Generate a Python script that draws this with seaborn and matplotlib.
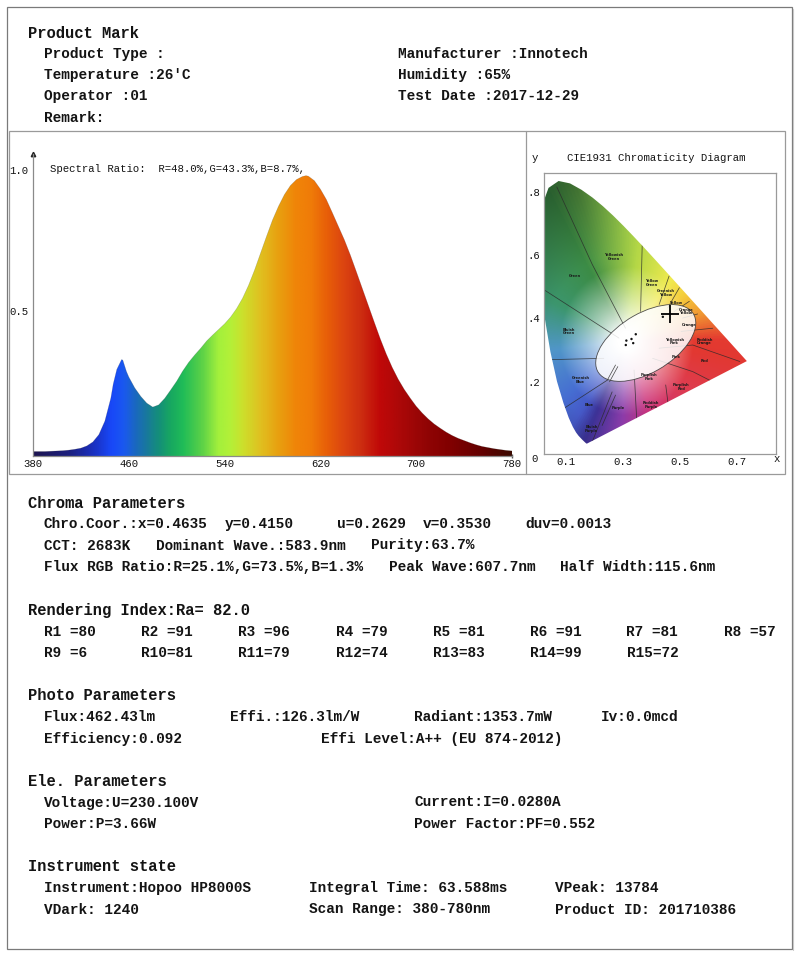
import numpy as np
import pandas as pd
import matplotlib
matplotlib.use("Agg")
import matplotlib.pyplot as plt
import seaborn as sns
from matplotlib.patches import Rectangle, Polygon, Ellipse
from matplotlib.colors import LinearSegmentedColormap
from matplotlib.ticker import FixedLocator, FuncFormatter

# ------------------------------------------------------------------ data
wavelength = [380, 385, 390, 395, 400, 405, 410, 415, 420, 425, 430, 435, 440, 445,
              447, 450, 454, 455, 458, 460, 465, 470, 475, 480, 485, 490, 495, 500,
              505, 510, 515, 520, 525, 530, 535, 540, 545, 550, 555, 560, 565, 570,
              575, 580, 585, 590, 595, 600, 605, 608, 610, 615, 620, 625, 630, 635,
              640, 645, 650, 655, 660, 665, 670, 675, 680, 685, 690, 695, 700, 705,
              710, 715, 720, 725, 730, 735, 740, 745, 750, 755, 760, 765, 770, 775, 780]
relative_power = [0.000, 0.000, 0.000, 0.001, 0.002, 0.003, 0.005, 0.008, 0.012, 0.020,
                  0.034, 0.060, 0.108, 0.190, 0.240, 0.292, 0.327, 0.325, 0.285, 0.265,
                  0.226, 0.196, 0.172, 0.158, 0.166, 0.189, 0.219, 0.250, 0.286, 0.317,
                  0.343, 0.367, 0.393, 0.414, 0.434, 0.454, 0.478, 0.508, 0.545, 0.591,
                  0.645, 0.705, 0.765, 0.823, 0.872, 0.914, 0.946, 0.967, 0.978, 0.981,
                  0.979, 0.963, 0.933, 0.896, 0.849, 0.801, 0.753, 0.699, 0.640, 0.580,
                  0.520, 0.460, 0.401, 0.347, 0.299, 0.257, 0.221, 0.190, 0.161, 0.137,
                  0.116, 0.098, 0.083, 0.069, 0.057, 0.047, 0.039, 0.031, 0.024, 0.018,
                  0.014, 0.010, 0.007, 0.004, 0.002]
spec_xticks = [380, 460, 540, 620, 700, 780]
spec_yticks = [0.5, 1.0]
spectral_ratio_text = "Spectral Ratio:  R=48.0%,G=43.3%,B=8.7%,"

# spectrum colour stops (wavelength, colour)
spec_color_wl = [380, 410, 430, 445, 455, 465, 475, 485, 495, 505, 520, 535, 545, 555,
                 570, 585, 600, 612, 625, 640, 655, 670, 690, 710, 730, 755, 780]
spec_color_hex = ['#1c1450', '#1c2080', '#1a30c0', '#1848f8', '#1a58f0', '#1a68c0',
                  '#187a9a', '#149078', '#18a860', '#20bc58', '#58d048', '#a4f03c',
                  '#b4f038', '#cce02c', '#e0c020', '#e8a010', '#f08408', '#f07c08',
                  '#e86008', '#dc4410', '#cc2c10', '#c00808', '#a80808', '#900404',
                  '#800000', '#640000', '#3c0a00']

# CIE 1931 spectral locus
locus_x = [0.1741, 0.1714, 0.1644, 0.1566, 0.1440, 0.1355, 0.1241, 0.1096, 0.0913, 0.0687,
           0.0454, 0.0235, 0.0082, 0.0039, 0.0139, 0.0389, 0.0743, 0.1142, 0.1547, 0.1929,
           0.2296, 0.2658, 0.3016, 0.3373, 0.3731, 0.4087, 0.4441, 0.4788, 0.5125, 0.5448,
           0.5752, 0.6029, 0.6270, 0.6658, 0.6915, 0.7190, 0.7347]
locus_y = [0.0050, 0.0051, 0.0109, 0.0177, 0.0297, 0.0399, 0.0578, 0.0868, 0.1327, 0.2007,
           0.2950, 0.4127, 0.5384, 0.6548, 0.7502, 0.8120, 0.8338, 0.8262, 0.8059, 0.7816,
           0.7543, 0.7243, 0.6923, 0.6589, 0.6245, 0.5896, 0.5547, 0.5202, 0.4866, 0.4544,
           0.4242, 0.3965, 0.3725, 0.3340, 0.3083, 0.2809, 0.2653]
chroma_x = [0.4635]
chroma_y = [0.4150]
cie_xticks = [0.1, 0.3, 0.5, 0.7]
cie_yticks = [0.2, 0.4, 0.6, 0.8]

# hue colours of the printed chart, by angle around the white point
hue_angle = [0, 17, 35, 51, 82, 107, 120, 155, 186, 220, 235, 245, 267, 291, 325, 352, 360]
hue_color = ['#e43a30', '#f09632', '#f5cd3c', '#f0eb50', '#b4d746', '#64a546', '#3c8c46',
             '#3c966e', '#5096c8', '#466ed2', '#465ac8', '#3c3296', '#8c3caa', '#cd3278',
             '#de3c50', '#e23832', '#e43a30']

# colour-name regions (Kelly chart) boundaries and names
region_lines = [
    [(0.068, 0.815), (0.192, 0.571), (0.309, 0.369)],
    [(0.368, 0.650), (0.362, 0.422)],
    [(0.462, 0.534), (0.427, 0.444)],
    [(0.498, 0.497), (0.457, 0.433)],
    [(0.533, 0.454), (0.480, 0.422)],
    [(0.562, 0.414), (0.509, 0.401)],
    [(0.615, 0.369), (0.504, 0.359)],
    [(0.427, 0.306), (0.545, 0.316), (0.710, 0.264)],
    [(0.404, 0.274), (0.545, 0.232), (0.680, 0.170)],
    [(0.339, 0.237), (0.350, 0.051)],
    [(0.450, 0.190), (0.462, 0.105)],
    [(0.003, 0.502), (0.286, 0.338)],
    [(0.007, 0.269), (0.233, 0.274)],
    [(0.074, 0.105), (0.245, 0.205)],
    [(0.192, 0.010), (0.262, 0.168)],
    [(0.227, 0.062), (0.274, 0.158)],
]
region_names = ["Green", "Yellowish\nGreen", "Yellow\nGreen", "Greenish\nYellow", "Yellow",
                "Orange\nYellow", "Orange", "Yellowish\nPink", "Reddish\nOrange", "Pink",
                "Red", "Purplish\nPink", "Purplish\nRed", "Reddish\nPurple", "Purple",
                "Blue", "Greenish\nBlue", "Bluish\nGreen", "Bluish\nPurple"]
region_x = [0.133, 0.268, 0.401, 0.451, 0.486, 0.521, 0.533, 0.480, 0.586, 0.486,
            0.586, 0.392, 0.504, 0.398, 0.284, 0.180, 0.151, 0.109, 0.190]
region_y = [0.534, 0.594, 0.512, 0.481, 0.449, 0.422, 0.380, 0.327, 0.327, 0.279,
            0.264, 0.216, 0.184, 0.126, 0.117, 0.126, 0.205, 0.359, 0.051]
white_pts_x = [0.310, 0.312, 0.330, 0.336, 0.345, 0.440]
white_pts_y = [0.316, 0.330, 0.335, 0.322, 0.350, 0.405]

# report texts
header_title = "Product Mark"
header_left = ["Product Type :", "Temperature :26'C", "Operator :01", "Remark:"]
header_right = ["Manufacturer :Innotech", "Humidity :65%", "Test Date :2017-12-29"]

chroma_title = "Chroma Parameters"
chroma_row1 = ["Chro.Coor.:x=0.4635", "y=0.4150", "u=0.2629", "v=0.3530", "duv=0.0013"]
chroma_row2 = ["CCT: 2683K", "Dominant Wave.:583.9nm", "Purity:63.7%"]
chroma_row3 = ["Flux RGB Ratio:R=25.1%,G=73.5%,B=1.3%", "Peak Wave:607.7nm", "Half Width:115.6nm"]

ri_title = "Rendering Index:Ra= 82.0"
ri_names = ["R1 ", "R2 ", "R3 ", "R4 ", "R5 ", "R6 ", "R7 ", "R8 ",
            "R9 ", "R10", "R11", "R12", "R13", "R14", "R15"]
ri_values = [80, 91, 96, 79, 81, 91, 81, 57, 6, 81, 79, 74, 83, 99, 72]

photo_title = "Photo Parameters"
photo_row1 = ["Flux:462.43lm", "Effi.:126.3lm/W", "Radiant:1353.7mW", "Iv:0.0mcd"]
photo_row2 = ["Efficiency:0.092", "Effi Level:A++ (EU 874-2012)"]

ele_title = "Ele. Parameters"
ele_row1 = ["Voltage:U=230.100V", "Current:I=0.0280A"]
ele_row2 = ["Power:P=3.66W", "Power Factor:PF=0.552"]

inst_title = "Instrument state"
inst_row1 = ["Instrument:Hopoo HP8000S", "Integral Time: 63.588ms", "VPeak: 13784"]
inst_row2 = ["VDark: 1240", "Scan Range: 380-780nm", "Product ID: 201710386"]

# ------------------------------------------------------------------ style
sns.set_theme(style="white")
MONO = ["Liberation Mono", "DejaVu Sans Mono"]
plt.rcParams["font.family"] = MONO

W, H = 800, 957
fig = plt.figure(figsize=(W / 100, H / 100), dpi=100)
fig.patch.set_facecolor("white")

bg = fig.add_axes([0, 0, 1, 1])
bg.set_xlim(0, W)
bg.set_ylim(H, 0)
bg.axis("off")

TXT = "#141414"
BODY = dict(family=MONO, weight="bold", fontsize=10.4, va="center", ha="left", color=TXT)
TITLE = dict(family=MONO, weight="bold", fontsize=11.2, va="center", ha="left", color=TXT)
SMALL = dict(family=MONO, weight="normal", fontsize=7.7, va="center", color=TXT)

# borders
bg.add_patch(Rectangle((7, 7), 785, 942, fill=False, edgecolor="#7a7a7a", lw=0.9))
bg.plot([793, 793], [9, 950], color="#c8c8c8", lw=0.8)
bg.add_patch(Rectangle((9, 131), 776, 343, fill=False, edgecolor="#9a9a9a", lw=0.9))
bg.plot([526, 526], [131, 474], color="#9a9a9a", lw=0.9)

# header
bg.text(28, 33, header_title, **TITLE)
for i, s in enumerate(header_left):
    bg.text(44, 54 + 21.2 * i, s, **BODY)
for i, s in enumerate(header_right):
    bg.text(398, 54 + 21.2 * i, s, **BODY)

# chroma
bg.text(28, 503, chroma_title, **TITLE)
for s, x in zip(chroma_row1, [44, 224.5, 337, 422.5, 525.5]):
    bg.text(x, 524, s, **BODY)
for s, x in zip(chroma_row2, [44, 156.5, 371]):
    bg.text(x, 545.5, s, **BODY)
for s, x in zip(chroma_row3, [44, 389, 560.5]):
    bg.text(x, 567, s, **BODY)

# rendering index
bg.text(28, 610, ri_title, **TITLE)
ri_cols = [44.4, 141.3, 238.3, 335.7, 432.7, 529.6, 626.5, 724.0]
for i, (n, v) in enumerate(zip(ri_names, ri_values)):
    row, col = divmod(i, 8)
    bg.text(ri_cols[col], 631.5 + 21.5 * row, f"{n}={v}", **BODY)

# photo
bg.text(28, 696, photo_title, **TITLE)
for s, x in zip(photo_row1, [44, 229.6, 414.3, 600.5]):
    bg.text(x, 717, s, **BODY)
for s, x in zip(photo_row2, [44, 321.4]):
    bg.text(x, 738.5, s, **BODY)

# electrical
bg.text(28, 781.5, ele_title, **TITLE)
for s, x in zip(ele_row1, [44, 414.3]):
    bg.text(x, 802.5, s, **BODY)
for s, x in zip(ele_row2, [44, 414.3]):
    bg.text(x, 824, s, **BODY)

# instrument
bg.text(28, 866.5, inst_title, **TITLE)
for s, x in zip(inst_row1, [44, 308.7, 555]):
    bg.text(x, 888, s, **BODY)
for s, x in zip(inst_row2, [44, 308.7, 555]):
    bg.text(x, 909.5, s, **BODY)


def px_axes(l, t, r, b):
    return [l / W, 1 - b / H, (r - l) / W, (b - t) / H]


# ------------------------------------------------------------------ spectrum
spec = pd.DataFrame({"wavelength": wavelength, "power": relative_power})
ax = fig.add_axes(px_axes(33, 154, 512, 456))
ax.set_facecolor("none")
ax.set_xlim(380, 780)
ax.set_ylim(-0.016, 1.058)

cmap = LinearSegmentedColormap.from_list(
    "spec", [((w - 380) / 400, c) for w, c in zip(spec_color_wl, spec_color_hex)])
grad = np.linspace(0, 1, 800).reshape(1, -1)
im = ax.imshow(grad, extent=[380, 780, -0.016, 1.058], aspect="auto", cmap=cmap,
               origin="lower", interpolation="bilinear", zorder=1)
verts = list(zip(spec["wavelength"], spec["power"])) + [(780, -0.016), (380, -0.016)]
clip = Polygon(verts, closed=True, transform=ax.transData, facecolor="none", edgecolor="none")
ax.add_patch(clip)
im.set_clip_path(clip)
sns.lineplot(data=spec, x="wavelength", y="power", ax=ax, color="#3a3a3a",
             lw=0.35, alpha=0.3, zorder=2)
ax.set_xlabel("")
ax.set_ylabel("")

for side in ["top", "right"]:
    ax.spines[side].set_visible(False)
for side in ["left", "bottom"]:
    ax.spines[side].set_color("#8a8a8a")
    ax.spines[side].set_linewidth(0.9)
ax.plot([0], [1], marker="^", ms=3.2, color="#222222", transform=ax.transAxes, clip_on=False)
ax.plot([1], [0], marker="|", ms=3, color="#555555", transform=ax.transAxes, clip_on=False)
ax.set_xticks(spec_xticks)
ax.set_xticklabels([str(v) for v in spec_xticks])
ax.set_yticks(spec_yticks)
ax.set_yticklabels([f"{v:.1f}" for v in spec_yticks])
ax.tick_params(axis="x", length=0, pad=2.2, labelsize=7.7, labelcolor=TXT)
ax.tick_params(axis="y", length=2, width=0.6, color="#555555", pad=1.2, labelsize=7.7,
               labelcolor=TXT, direction="out")
for lab in ax.get_xticklabels() + ax.get_yticklabels():
    lab.set_family(MONO)
ax.text(50, 169.5, spectral_ratio_text, transform=bg.transData, ha="left", **SMALL)

# ------------------------------------------------------------------ CIE diagram
cx = fig.add_axes(px_axes(544, 173, 776, 454))
cx.set_xlim(0.023, 0.837)
cx.set_ylim(-0.028, 0.859)
cx.set_facecolor("white")

gx = np.linspace(0.0, 0.85, 520)
gy = np.linspace(-0.03, 0.87, 540)
GX, GY = np.meshgrid(gx, gy)
DX, DY = GX - 0.3127, GY - 0.3290
theta = np.degrees(np.arctan2(DY, DX)) % 360
dist = np.hypot(DX, DY)
hue_cmap = LinearSegmentedColormap.from_list(
    "hue", [(a / 360, c) for a, c in zip(hue_angle, hue_color)])
pal = hue_cmap(theta / 360)[..., :3]
t = np.clip((dist - 0.035) / 0.20, 0, 1) ** 0.85
rgb = (1 - t[..., None]) + pal * t[..., None]
mask = np.clip((theta - 90) / 20, 0, 1) * np.clip((262 - theta) / 20, 0, 1)
dark = 1 - 0.32 * np.clip((dist - 0.28) / 0.26, 0, 1) * mask
rgb = rgb * dark[..., None]
cimg = cx.imshow(rgb, extent=[0.0, 0.85, -0.03, 0.87], origin="lower", aspect="auto",
                 interpolation="bilinear", zorder=1)
loc = Polygon(list(zip(locus_x, locus_y)), closed=True, transform=cx.transData,
              facecolor="none", edgecolor="none")
cx.add_patch(loc)
cimg.set_clip_path(loc)

for seg in region_lines:
    xs, ys = zip(*seg)
    ln, = cx.plot(xs, ys, color="#2a2a2a", lw=0.55, alpha=0.8, zorder=2)
    ln.set_clip_path(loc)
cx.add_patch(Ellipse((0.38, 0.3225), 0.382, 0.19, angle=27, facecolor="white",
                     alpha=0.85, edgecolor="#333333", lw=0.6, zorder=3))
for n, x, y in zip(region_names, region_x, region_y):
    cx.text(x, y, n, fontsize=2.6, ha="center", va="center", color="#1a1a1a",
            family=["DejaVu Sans"], weight="bold", zorder=4, linespacing=0.9)
cx.plot([0.245, 0.274], [0.205, 0.253], color="#444444", lw=0.5, zorder=4)
cx.plot([0.253, 0.282], [0.200, 0.248], color="#444444", lw=0.5, zorder=4)
sns.scatterplot(x=white_pts_x, y=white_pts_y, ax=cx, s=3, color="#111111",
                edgecolor="none", zorder=5)
sns.scatterplot(x=chroma_x, y=chroma_y, ax=cx, marker="+", s=150, linewidth=1.3,
                color="black", zorder=6)

for side in cx.spines.values():
    side.set_color("#9a9a9a")
    side.set_linewidth(0.9)
cx.xaxis.set_major_locator(FixedLocator(cie_xticks))
cx.xaxis.set_minor_locator(FixedLocator([0.2, 0.4, 0.6, 0.8]))
cx.yaxis.set_major_locator(FixedLocator(cie_yticks))
cx.yaxis.set_minor_locator(FixedLocator([0.1, 0.3, 0.5, 0.7]))
cx.xaxis.set_major_formatter(FuncFormatter(lambda v, p: f"{v:.1f}"))
cx.yaxis.set_major_formatter(FuncFormatter(lambda v, p: f"{v:.1f}"[1:]))
cx.tick_params(axis="both", which="both", direction="in", color="#777777", width=0.6)
cx.tick_params(axis="both", which="major", length=3)
cx.tick_params(axis="both", which="minor", length=3)
cx.tick_params(axis="x", pad=2.0, labelsize=7.7, labelcolor=TXT)
cx.tick_params(axis="y", pad=2.5, labelsize=7.7, labelcolor=TXT)
for lab in cx.get_xticklabels() + cx.get_yticklabels():
    lab.set_family(MONO)
cx.set_xlabel("")
cx.set_ylabel("")

bg.text(535, 158, "y", ha="center", **SMALL)
bg.text(656, 158, "CIE1931 Chromaticity Diagram", ha="center", **SMALL)
bg.text(535, 459.5, "0", ha="center", **SMALL)
bg.text(777, 459.5, "x", ha="center", **SMALL)

fig.savefig("out.png", dpi=100, facecolor="white")
